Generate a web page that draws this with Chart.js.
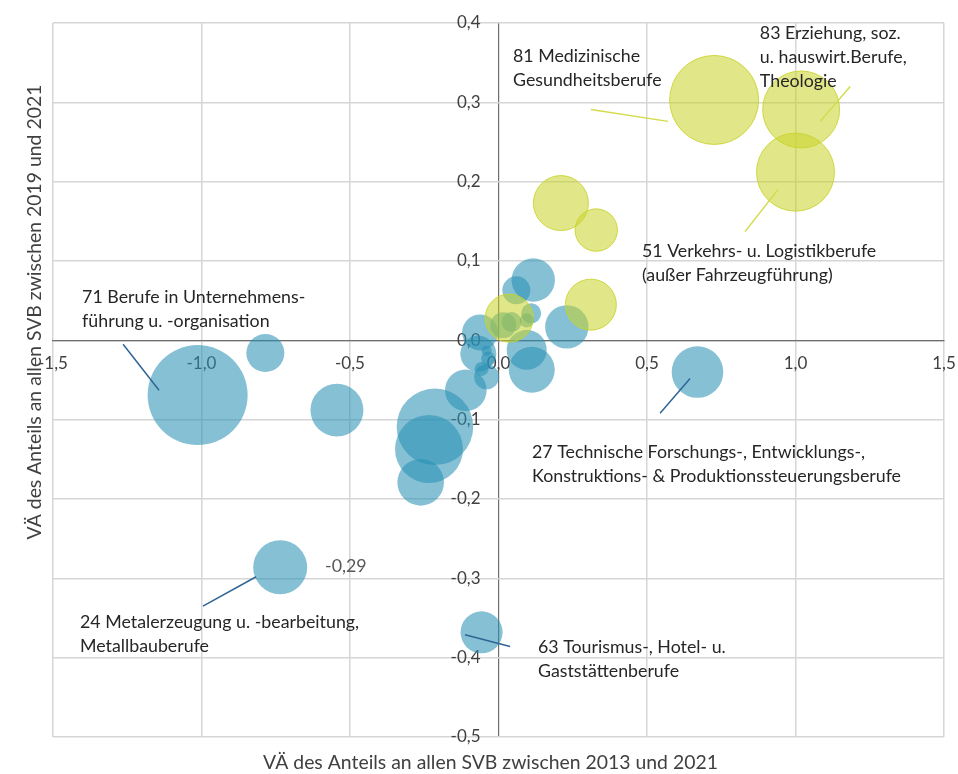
<!DOCTYPE html>
<html><head><meta charset="utf-8">
<script src="https://cdn.jsdelivr.net/npm/chart.js@4/dist/chart.umd.min.js"></script>
<style>html,body{margin:0;padding:0;background:#fff;}#wrap{width:958px;height:774px;}</style>
</head><body><div id="wrap"><canvas id="c" width="958" height="774"></canvas></div>
<script>
// Blue series (occupation groups, falling/low share)
const blueX = [-1.013,-0.785,-0.544,-0.735,-0.214,-0.234,-0.262,-0.110,-0.040,-0.057,0.670,0.117,0.060,0.230,0.112,0.095,-0.062,-0.068,-0.040,-0.035,-0.057,0.016,0.044,0.095,0.110];
const blueY = [-0.069,-0.016,-0.088,-0.286,-0.109,-0.137,-0.179,-0.063,-0.046,-0.368,-0.040,0.076,0.063,0.017,-0.037,-0.012,0.010,-0.017,-0.013,-0.023,-0.036,0.019,0.023,0.025,0.034];
const blueSize = [2500,361,700,729,1467,1156,543,433,156,441,666,471,196,471,529,400,324,324,25,49,49,169,100,49,100];
// Yellow series (growing share)
const yellowX = [0.726,1.019,1.000,0.210,0.329,0.311,0.036];
const yellowY = [0.303,0.291,0.212,0.173,0.139,0.045,0.028];
const yellowSize = [1980,1482,1521,756,449,650,576];

const xTickValues = [-1.5,-1.0,-0.5,0.0,0.5,1.0,1.5];
const yTickValues = [-0.5,-0.4,-0.3,-0.2,-0.1,0.0,0.1,0.2,0.3,0.4];

const xTitle = 'VÄ des Anteils an allen SVB zwischen 2013 und 2021';
const yTitle = 'VÄ des Anteils an allen SVB zwischen 2019 und 2021';

// Annotation texts, anchored in data coordinates
const labelTexts = [
  ['81 Medizinische','Gesundheitsberufe'],
  ['83 Erziehung, soz.','u. hauswirt.Berufe,','Theologie'],
  ['51 Verkehrs- u. Logistikberufe','(außer Fahrzeugführung)'],
  ['71 Berufe in Unternehmens-','führung u. -organisation'],
  ['27 Technische Forschungs-, Entwicklungs-,','Konstruktions- & Produktionssteuerungsberufe'],
  ['24 Metalerzeugung u. -bearbeitung,','Metallbauberufe'],
  ['63 Tourismus-, Hotel- u.','Gaststättenberufe'],
  ['-0,29']
];
const labelAnchorX = [0.049,0.880,0.483,-1.402,0.113,-1.409,0.133,-0.584];
const labelAnchorY = [0.358,0.387,0.112,0.054,-0.141,-0.356,-0.387,-0.285];
const labelColor = ['#262626','#262626','#262626','#262626','#262626','#262626','#262626','#595959'];

// Leader lines in data coordinates
const leaderX1 = [0.311,1.184,0.830,-1.264,0.544,-0.995,-0.113];
const leaderY1 = [0.291,0.320,0.137,-0.005,-0.092,-0.335,-0.371];
const leaderX2 = [0.571,1.083,0.941,-1.143,0.645,-0.816,0.039];
const leaderY2 = [0.276,0.276,0.190,-0.063,-0.048,-0.298,-0.386];
const leaderColor = ['#d3db4a','#d3db4a','#d3db4a','#2f6596','#2f6596','#2f6596','#2f6596'];

const FONT = 'Lato, "Open Sans", sans-serif';
const GRID = '#d6d6d6';
const AXIS = '#6e6e6e';
const fmt = v => (Math.round(v*10)/10).toFixed(1).replace('.', ',');

const toPoints = (xs, ys, ss) => xs.map((x,i) => ({x, y: ys[i], r: Math.sqrt(ss[i])}));

const annotPlugin = {
  id: 'annot',
  afterDatasetsDraw(chart) {
    const {ctx, scales:{x, y}} = chart;
    ctx.save();
    ctx.lineWidth = 1.5;
    for (let i = 0; i < leaderX1.length; i++) {
      ctx.strokeStyle = leaderColor[i];
      ctx.beginPath();
      ctx.moveTo(x.getPixelForValue(leaderX1[i]), y.getPixelForValue(leaderY1[i]));
      ctx.lineTo(x.getPixelForValue(leaderX2[i]), y.getPixelForValue(leaderY2[i]));
      ctx.stroke();
    }
    ctx.font = '17.8px ' + FONT;
    ctx.textAlign = 'left';
    ctx.textBaseline = 'middle';
    for (let i = 0; i < labelTexts.length; i++) {
      ctx.fillStyle = labelColor[i];
      const px = x.getPixelForValue(labelAnchorX[i]);
      const py = y.getPixelForValue(labelAnchorY[i]);
      labelTexts[i].forEach((t, k) => ctx.fillText(t, px, py + k*24));
    }
    ctx.restore();
  },
  afterDraw(chart) {
    const {ctx, chartArea} = chart;
    ctx.save();
    ctx.fillStyle = '#404040';
    ctx.font = '19.4px ' + FONT;
    ctx.textAlign = 'center';
    ctx.textBaseline = 'middle';
    ctx.fillText(xTitle, (chartArea.left + chartArea.right)/2 - 8, chartArea.bottom + 26);
    ctx.translate(35, 312);
    ctx.rotate(-Math.PI/2);
    ctx.fillText(yTitle, 0, 0);
    ctx.restore();
  }
};

const noPad = s => { s.paddingTop = 0; s.paddingBottom = 0; s.paddingLeft = 0; s.paddingRight = 0; };
// y tick labels sit 18px left of the vertical zero line (3 units over 891px)
const Y_LABEL_SHIFT = -18 * 3 / 891;

new Chart(document.getElementById('c'), {
  type: 'bubble',
  data: {
    datasets: [
      {
        label: 'Anteil gestiegen',
        data: toPoints(yellowX, yellowY, yellowSize),
        backgroundColor: 'rgba(200,212,40,0.55)',
        borderColor: 'rgba(200,210,40,0.85)',
        borderWidth: 1,
        order: 0
      },
      {
        label: 'Anteil gesunken',
        data: toPoints(blueX, blueY, blueSize),
        backgroundColor: 'rgba(40,145,180,0.57)',
        borderWidth: 0,
        order: 1
      }
    ]
  },
  options: {
    responsive: false,
    animation: false,
    devicePixelRatio: 1,
    layout: {autoPadding: false, padding: {left: 53, right: 14, top: 23, bottom: 37}},
    plugins: {legend: {display: false}, tooltip: {enabled: false}},
    elements: {point: {hoverRadius: 0}},
    scales: {
      x: {
        type: 'linear',
        position: {y: 0},
        min: -1.5, max: 1.5,
        afterBuildTicks: s => { s.ticks = xTickValues.map(v => ({value: v})); },
        afterFit: noPad,
        ticks: {callback: v => fmt(v), color: '#404040', font: {family: FONT, size: 17}, padding: 13, maxRotation: 0, autoSkip: false},
        grid: {color: c => (c.tick && c.tick.value === 0 ? AXIS : GRID), lineWidth: c => (c.tick && c.tick.value === 0 ? 1.2 : 1.5), drawTicks: false},
        border: {display: true, color: AXIS, width: 1.2}
      },
      y: {
        type: 'linear',
        position: {x: Y_LABEL_SHIFT},
        min: -0.5, max: 0.4,
        afterBuildTicks: s => { s.ticks = yTickValues.map(v => ({value: v})); },
        afterFit: noPad,
        ticks: {callback: v => fmt(v), color: '#404040', font: {family: FONT, size: 17}, padding: 0, autoSkip: false},
        grid: {color: GRID, lineWidth: 1.5, drawTicks: false},
        border: {display: false}
      }
    }
  },
  plugins: [annotPlugin]
});
</script>
</body></html>
